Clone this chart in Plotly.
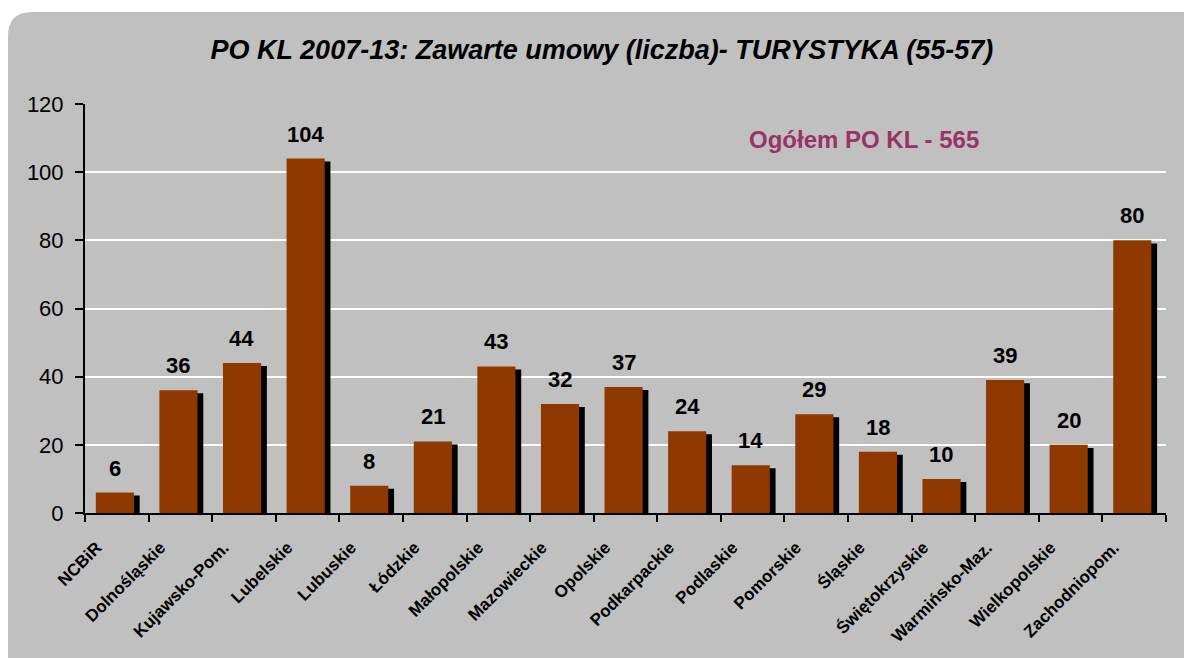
import plotly.graph_objects as go

categories = ["NCBiR", "Dolnośląskie", "Kujawsko-Pom.", "Lubelskie", "Lubuskie", "Łódzkie",
              "Małopolskie", "Mazowieckie", "Opolskie", "Podkarpackie", "Podlaskie", "Pomorskie",
              "Śląskie", "Świętokrzyskie", "Warmińsko-Maz.", "Wielkopolskie", "Zachodniopom."]
values = [6, 36, 44, 104, 8, 21, 43, 32, 37, 24, 14, 29, 18, 10, 39, 20, 80]
title_text = "PO KL 2007-13: Zawarte umowy (liczba)- TURYSTYKA (55-57)"
total_text = "Ogółem PO KL - 565"
y_ticks = [0, 20, 40, 60, 80, 100, 120]

FONT = "Liberation Sans, Arial, sans-serif"
BAR_W = 0.6

fig = go.Figure()
# shadow
fig.add_trace(go.Bar(x=categories, y=values, base=-0.9, width=BAR_W, offset=-0.24,
                     marker=dict(color="#000000", line=dict(width=0)), hoverinfo="skip",
                     showlegend=False))
# main bars
fig.add_trace(go.Bar(x=categories, y=values, width=BAR_W, offset=-0.33,
                     marker=dict(color="#8f3900", line=dict(width=0)), showlegend=False))

annotations = []
for c, v in zip(categories, values):
    annotations.append(dict(x=c, y=v, xref="x", yref="y", text=str(v), showarrow=False,
                            yanchor="bottom", yshift=10, xshift=-2,
                            font=dict(family=FONT, size=22, color="#000000", weight="bold")))
annotations.append(dict(x=0.7206, y=0.914, xref="paper", yref="paper", text=total_text,
                        showarrow=False, xanchor="center", yanchor="middle",
                        font=dict(family=FONT, size=24, color="#993366", weight="bold")))

X0, XR = -0.0712, 1.03
YT, YB = 1.2249, -0.37
rx, ry = 24 / 1081, 24 / 409
panel = (f"M {X0},{YB} L {X0},{YT - ry} Q {X0},{YT} {X0 + rx},{YT} "
         f"L {XR},{YT} L {XR},{YB} Z")

fig.update_layout(
    width=1184, height=658,
    margin=dict(l=85, r=18, t=104, b=145),
    paper_bgcolor="#ffffff",
    plot_bgcolor="#c0c0c0",
    barmode="overlay",
    shapes=[dict(type="path", path=panel, xref="paper", yref="paper",
                 fillcolor="#c0c0c0", line=dict(width=0), layer="below")],
    annotations=annotations,
    title=dict(text=f"<i><b>{title_text}</b></i>", x=0.5084, xref="container",
               y=0.924, yref="container", xanchor="center", yanchor="middle",
               font=dict(family=FONT, size=27, color="#000000")),
    xaxis=dict(showline=True, linecolor="#000000", linewidth=2, ticks="outside",
               tickson="boundaries", ticklen=7, tickwidth=2, tickcolor="#000000",
               tickangle=-45, showgrid=False, ticklabelstandoff=16, ticklabelshift=-20,
               tickfont=dict(family=FONT, size=17, color="#000000", weight="bold")),
    yaxis=dict(range=[0, 120], tickvals=y_ticks, showline=True, linecolor="#000000",
               linewidth=2, ticks="outside", ticklen=8, tickwidth=2, tickcolor="#000000",
               showgrid=True, gridcolor="#ffffff", gridwidth=2, zeroline=False,
               ticklabelstandoff=7,
               tickfont=dict(family=FONT, size=22, color="#000000")),
)

fig.write_html("out.html", config={"displayModeBar": False},
               post_script="document.body.style.margin='0';document.body.style.overflow='hidden';")
